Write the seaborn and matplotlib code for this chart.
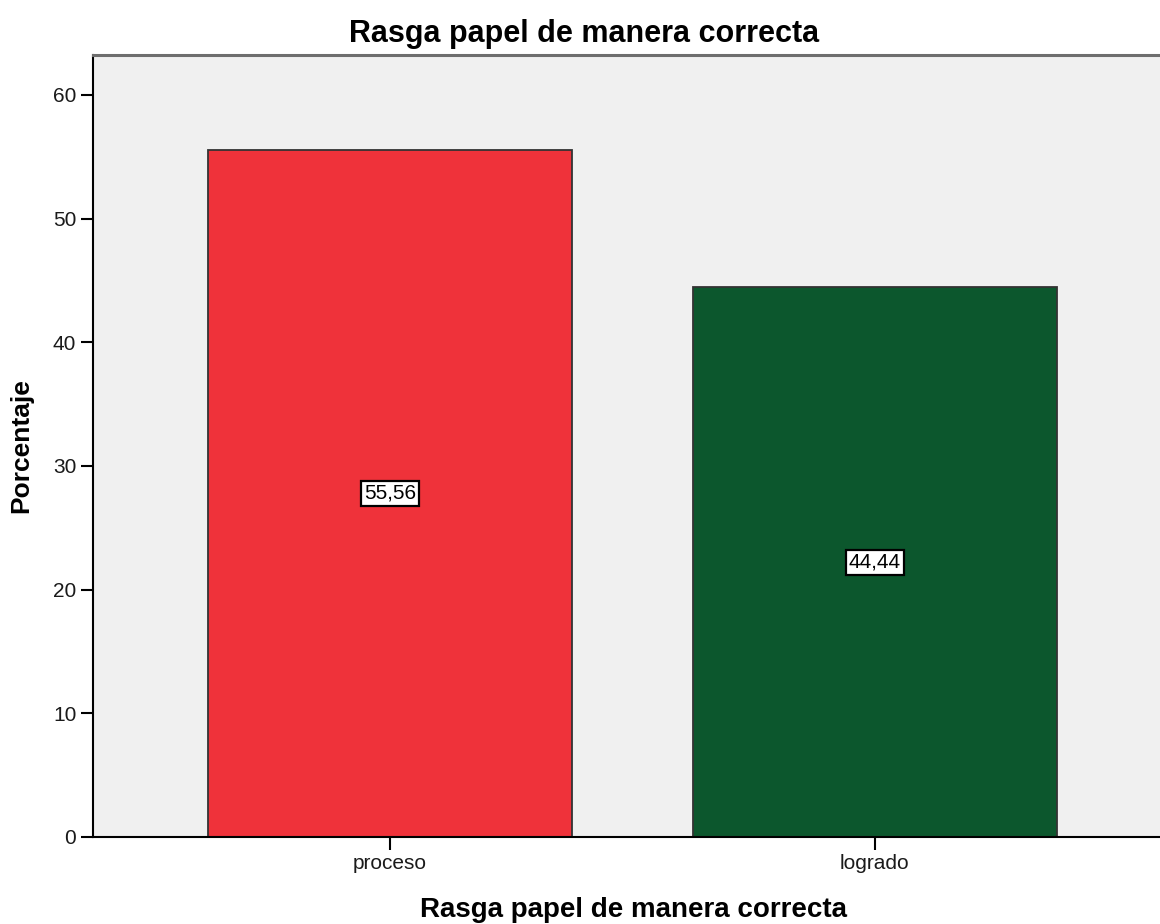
import pandas as pd
import matplotlib
matplotlib.use("Agg")
import matplotlib.pyplot as plt
import seaborn as sns

# Data
categories = ["proceso", "logrado"]
percentages = [55.56, 44.44]
bar_colors = ["#EF323A", "#0C572D"]
y_ticks = [0, 10, 20, 30, 40, 50, 60]

title_text = "Rasga papel de manera correcta"

sns.set_style("white")
plt.rcParams["font.family"] = ["Liberation Sans", "DejaVu Sans"]
plt.rcParams["text.color"] = "black"
plt.rcParams["axes.labelcolor"] = "black"

df = pd.DataFrame({"categoria": categories, "porcentaje": percentages})

fig = plt.figure(figsize=(11.6, 9.24), dpi=100)
ax = fig.add_axes([93 / 1160, 87 / 924, 1 - 93 / 1160, (837 - 55) / 924])
ax.set_facecolor("#F0F0F0")

sns.barplot(data=df, x="categoria", y="porcentaje", hue="categoria",
            palette=bar_colors, width=0.75, edgecolor="#333333",
            linewidth=1.3, legend=False, ax=ax, saturation=1)

# value labels in the middle of each bar
for i, val in enumerate(percentages):
    ax.text(i, val / 2, f"{val:.2f}".replace(".", ","), ha="center", va="center",
            fontsize=15, color="black",
            bbox=dict(boxstyle="square,pad=0.15", facecolor="white",
                      edgecolor="black", linewidth=1.6))

ax.set_xlim(-0.612, 1.588)
ax.set_ylim(0, 63.23)
ax.set_yticks(y_ticks)
ax.set_yticklabels([str(t) for t in y_ticks], fontsize=15, color="#1a1a1a")
ax.set_xticks(range(len(categories)))
ax.set_xticklabels(categories, fontsize=15, color="#1a1a1a")
ax.tick_params(axis="both", direction="out", length=9, width=1.5, color="black",
               left=True, bottom=True, pad=3)

ax.set_xlabel("")
ax.set_ylabel("Porcentaje", fontsize=19, fontweight="bold", labelpad=14)

for side in ["left", "bottom"]:
    ax.spines[side].set_color("black")
    ax.spines[side].set_linewidth(1.5)
ax.spines["top"].set_color("#6E6E6E")
ax.spines["top"].set_linewidth(2.2)
ax.spines["right"].set_visible(False)

fig.text(584 / 1160, 1 - 42 / 924, title_text, ha="center", va="baseline",
         fontsize=22, fontweight="bold", color="black")
fig.text(634 / 1160, 1 - 917 / 924, title_text, ha="center", va="baseline",
         fontsize=20, fontweight="bold", color="black")

plt.savefig("out.png", dpi=100)
